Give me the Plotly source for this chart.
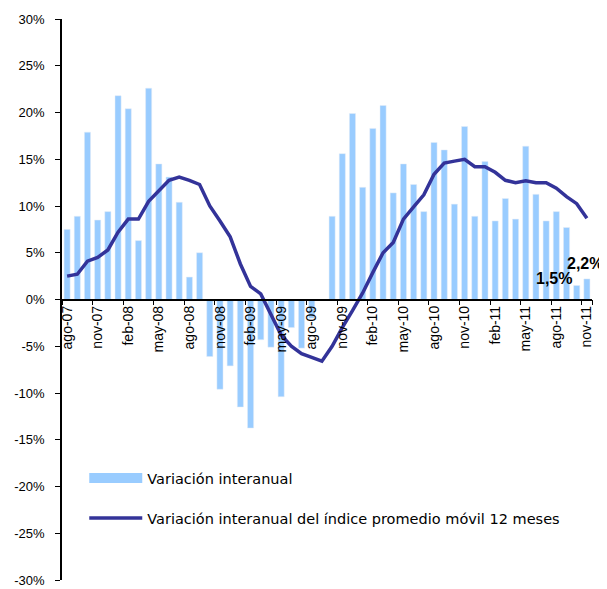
import plotly.graph_objects as go

MONTH_ABBR = ["ene", "feb", "mar", "abr", "may", "jun", "jul", "ago", "sep", "oct", "nov", "dic"]
PERIODS = (
    [(m, "07") for m in MONTH_ABBR[7:]]
    + [(m, "08") for m in MONTH_ABBR]
    + [(m, "09") for m in MONTH_ABBR]
    + [(m, "10") for m in MONTH_ABBR]
    + [(m, "11") for m in MONTH_ABBR[:11]]
)
months = [f"{m}-{y}" for m, y in PERIODS]

# variación interanual (%)
var_interanual = [
    7.5, 8.9, 17.9, 8.5, 9.4,
    21.8, 20.4, 6.3, 22.6, 14.5, 13.1, 10.4, 2.4, 5.0, -6.1, -9.6, -7.1,
    -11.5, -13.75, -4.3, -5.1, -10.4, -3.0, -5.2, -2.0, 0.0, 8.9, 15.6, 19.9,
    12.0, 18.3, 20.75, 11.4, 14.5, 12.3, 9.4, 16.8, 16.0, 10.2, 18.5, 8.9,
    14.75, 8.4, 10.8, 8.6, 16.4, 11.25, 8.4, 9.4, 7.7, 1.5, 2.2,
]

# variación interanual del índice promedio móvil 12 meses (%)
var_movil_12m = [
    2.5, 2.7, 4.1, 4.5, 5.3,
    7.2, 8.6, 8.6, 10.5, 11.6, 12.75, 13.1, 12.75, 12.3, 10.0, 8.4, 6.7,
    3.8, 1.4, 0.6, -1.7, -3.8, -5.0, -5.8, -6.2, -6.6, -5.0, -3.0, -1.2,
    0.7, 2.9, 5.0, 6.1, 8.6, 9.9, 11.2, 13.4, 14.6, 14.8, 15.0, 14.2,
    14.2, 13.6, 12.75, 12.5, 12.7, 12.5, 12.5, 11.9, 11.0, 10.25, 8.7,
]

y_ticks = [-30, -25, -20, -15, -10, -5, 0, 5, 10, 15, 20, 25, 30]
y_tick_text = ["-30%", "-25%", "-20%", "-15%", "-10%", "-5%", "0%",
               "5%", "10%", "15%", "20%", "25%", "30%"]

BAR_COLOR = "#99CCFF"
LINE_COLOR = "#333399"

fig = go.Figure()

fig.add_trace(go.Bar(
    x=months, y=var_interanual, marker_color=BAR_COLOR,
    showlegend=False, hoverinfo="x+y",
))
fig.add_trace(go.Scatter(
    x=months, y=var_movil_12m, mode="lines",
    line=dict(color=LINE_COLOR, width=3.5),
    showlegend=False,
))

# legend entries
fig.add_trace(go.Scatter(
    x=[None], y=[None], mode="lines", name="Variación interanual",
    line=dict(color=BAR_COLOR, width=10), legendgroup="a",
))
fig.add_trace(go.Scatter(
    x=[None], y=[None], mode="lines",
    name="Variación interanual del índice promedio móvil 12 meses",
    line=dict(color=LINE_COLOR, width=3.5), legendgroup="b",
))

fig.add_annotation(x=months[-1], y=3.9, text="<b>2,2%</b>", showarrow=False,
                   xshift=-2, font=dict(size=16, color="black", family="Liberation Sans"))
fig.add_annotation(x=months[-2], y=2.2, text="<b>1,5%</b>", showarrow=False,
                   xshift=-23, font=dict(size=16, color="black", family="Liberation Sans"))

# the page body adds an 8px offset, so the figure is 8px smaller than the window
fig.update_layout(
    width=599, height=581,
    margin=dict(l=54, r=15, t=11, b=9),
    plot_bgcolor="white", paper_bgcolor="white",
    bargap=0.4,
    font=dict(family="Liberation Sans", size=13, color="black"),
    legend=dict(
        x=0.042, y=0.21, xanchor="left", yanchor="top",
        bgcolor="rgba(0,0,0,0)", tracegroupgap=18, itemwidth=53,
        font=dict(family="DejaVu Sans", size=14.5, color="black"),
        traceorder="grouped",
    ),
    xaxis=dict(
        type="category", range=[-0.5, len(months) - 0.5],
        anchor="free", position=0.5, automargin=False,
        tickvals=months[::3], tickangle=-90,
        ticks="outside", ticklen=5, tickcolor="black", tickson="boundaries",
        showline=True, linecolor="black", linewidth=1.5,
        showgrid=False, tickfont=dict(size=14),
    ),
    yaxis=dict(
        range=[-30, 30], tickvals=y_ticks, ticktext=y_tick_text,
        automargin=False,
        ticks="outside", ticklen=5, tickcolor="black",
        showline=True, linecolor="black", linewidth=1.5,
        showgrid=False, zeroline=False, ticklabelstandoff=8,
    ),
)

fig.write_html("out.html")
